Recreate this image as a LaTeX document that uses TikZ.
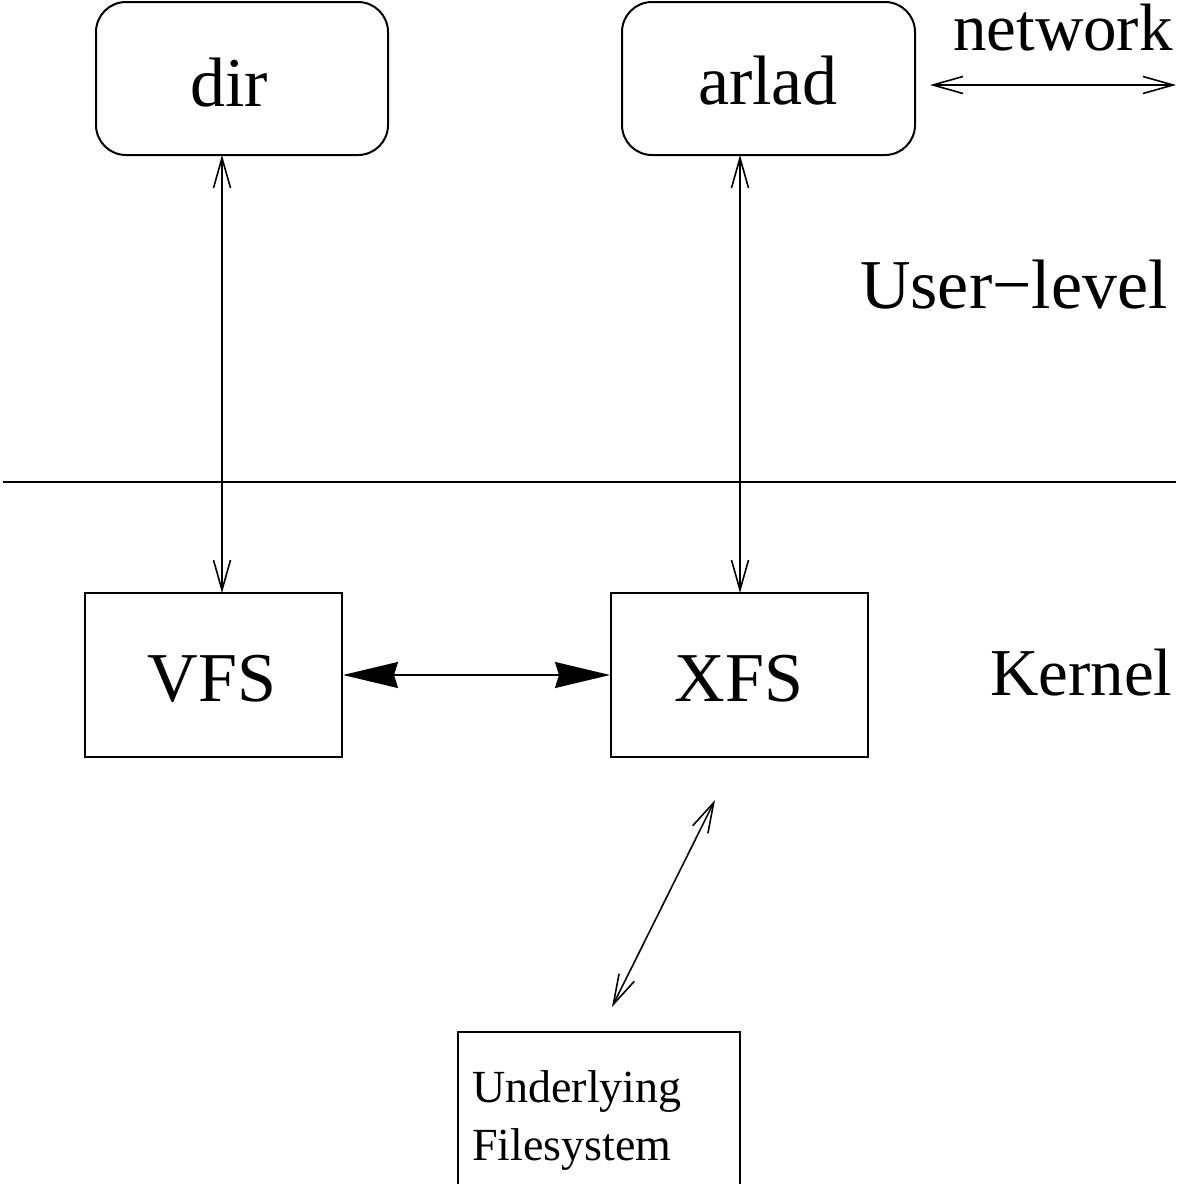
\documentclass[tikz,border=0pt]{standalone}
\usepackage{fontspec}
\setmainfont{Liberation Serif}
\usetikzlibrary{arrows.meta}
\begin{document}
\begin{tikzpicture}[x=1pt,y=-1pt,
  rbox/.style={draw,line width=2pt,rounded corners=30pt},
  sbox/.style={draw,line width=2pt},
  big/.style={font=\fontsize{70}{80}\selectfont},
  side/.style={font=\fontsize{67}{80}\selectfont},
  small/.style={font=\fontsize{46}{57}\selectfont},
  thinarr/.style={line width=1.6pt,{Straight Barb[length=30pt,width=17pt]}-{Straight Barb[length=30pt,width=17pt]}},
  fatarr/.style={line width=1.6pt,{Stealth[length=55pt,width=26pt,inset=4pt]}-{Stealth[length=55pt,width=26pt,inset=4pt]}}]
\useasboundingbox (0,0) rectangle (1176,1184);
\clip (0,0) rectangle (1176,1184);
% boxes
\draw[rbox] (96,2) rectangle (388,155);
\node[big,anchor=base] (dirt) at (229,106) {dir};
\coordinate (dirb) at (222,155);
\draw[rbox] (622,2) rectangle (915,155);
\node[big,anchor=base] (arladt) at (768,104) {arlad};
\coordinate (arladb) at (740,155);
\draw[sbox] (85,593) rectangle (342,757);
\node[big,anchor=base] (vfst) at (212,701) {VFS};
\draw[sbox] (611,593) rectangle (868,757);
\node[big,anchor=base] (xfst) at (739,701) {XFS};
\coordinate (vfstop) at (222,593);
\coordinate (xfstop) at (740,593);
\coordinate (vfsr) at (343,675);
\coordinate (xfsl) at (610,675);
\draw[sbox] (458,1032) rectangle (740,1200);
\node[small,anchor=base west,inner sep=0pt] (ul1) at (472,1102) {Underlying};
\node[small,anchor=base west,inner sep=0pt] (ul2) at (472,1160) {Filesystem};
% labels
\node[side,anchor=base west,inner sep=0pt] (net) at (953,50) {network};
\node[big,anchor=base west,inner sep=0pt] (ulev) at (860,308) {User−level};
\node[side,anchor=base west,inner sep=0pt] (kern) at (990,695) {Kernel};
% separator
\coordinate (sepl) at (3,482);
\coordinate (sepr) at (1176,482);
\draw[line width=1.6pt] (sepl) -- (sepr);
% connectors
\draw[thinarr] (dirb) -- (vfstop);
\draw[thinarr] (arladb) -- (xfstop);
\draw[fatarr] (vfsr) -- (xfsl);
\coordinate (na) at (930,85);
\coordinate (nb) at (1176,85);
\draw[thinarr] (na) -- (nb);
\coordinate (da) at (715,800);
\coordinate (db) at (612,1007);
\draw[thinarr] (da) -- (db);
\end{tikzpicture}
\end{document}
